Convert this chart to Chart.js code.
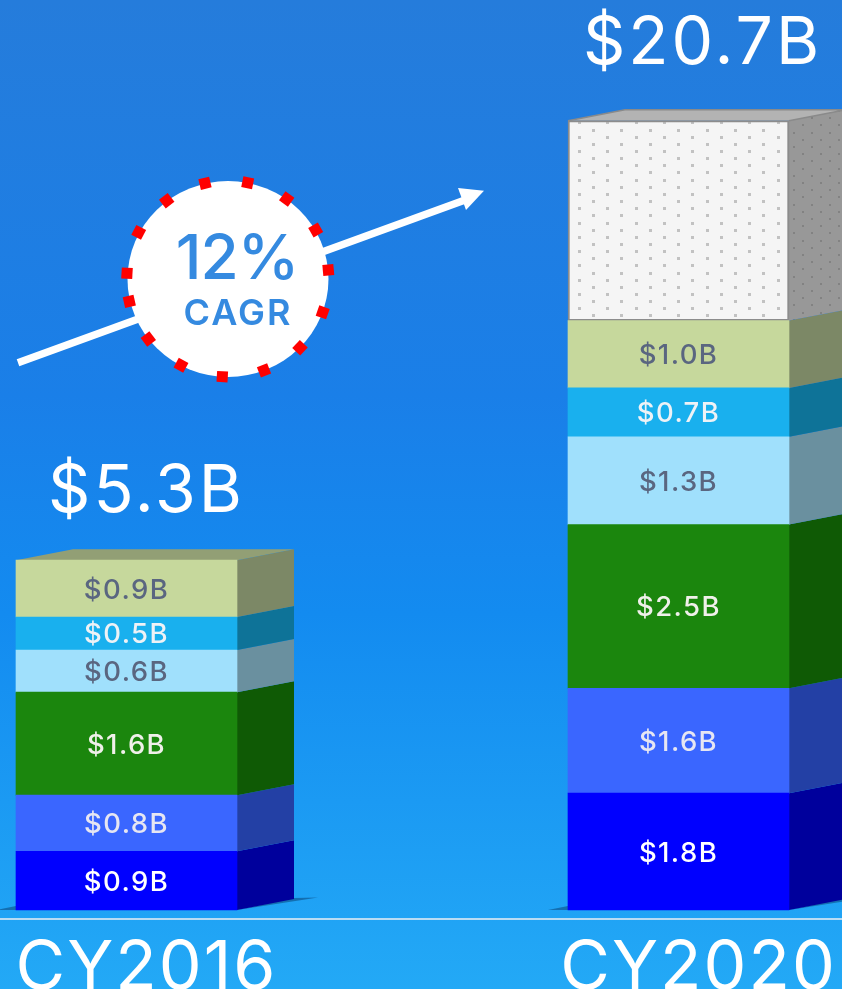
<!DOCTYPE html>
<html><head><meta charset="utf-8">
<style>html,body{margin:0;padding:0;background:#1a84ee;overflow:hidden}canvas{display:block}</style>
<script src="https://cdn.jsdelivr.net/npm/chart.js@4/dist/chart.umd.js"></script>
</head><body><canvas id="c" width="842" height="989"></canvas>
<script>
// ---- data (drawn heights, in $B) ----
const categories = ['CY2016', 'CY2020'];
const totals = ['$5.3B', '$20.7B'];
const segment1 = [0.89, 1.77];
const segment2 = [0.85, 1.59];
const segment3 = [1.56, 2.48];
const segment4 = [0.64, 1.33];
const segment5 = [0.50, 0.74];
const segment6 = [0.86, 1.02];
const segment7 = [null, 3.03];
const labels1 = ['$0.9B', '$1.8B'];
const labels2 = ['$0.8B', '$1.6B'];
const labels3 = ['$1.6B', '$2.5B'];
const labels4 = ['$0.6B', '$1.3B'];
const labels5 = ['$0.5B', '$0.7B'];
const labels6 = ['$0.9B', '$1.0B'];
const labels7 = ['', ''];
const cagrValue = '12%';
const cagrLabel = 'CAGR';

// ---- styles ----
const FONT = 'Inter, "Open Sans", sans-serif';
const frontColors = ['#0000ff', '#3a66ff', '#1b860d', '#a0e0fc', '#19b0ee', '#c6d89c'];
const sideColors = ['#00009c', '#2340a5', '#0f5a05', '#6a909f', '#0e7398', '#7c8866'];
const textColors = ['#ffffff', '#e6e6f2', '#f0f0ea', '#5a6680', '#eef2f6', '#5a6680', '#000'];
const topColors = ['#929f75', '#b3b3b3'];
const DX = 57, DY = -11;

function dotPattern(w, h, cols, rows, ox, oy, bg, dot, s) {
  const p = document.createElement('canvas');
  p.width = w; p.height = h;
  const g = p.getContext('2d');
  g.fillStyle = bg; g.fillRect(0, 0, w, h);
  g.fillStyle = dot;
  for (let i = 0; i < cols; i++) for (let j = 0; j < rows; j++) {
    const x = (ox + i * w / cols) % w;
    const yy = (oy + (j + (i % 2 ? 0.5 : 0)) * h / rows) % h;
    g.fillRect(Math.round(x - s / 2), Math.round(yy - s / 2), s, s);
  }
  return g.createPattern(p, 'repeat');
}
const ctx0 = document.getElementById('c').getContext('2d');
const frontPattern = dotPattern(142, 143, 10, 10, 11.3, 8.5, '#f5f5f5', '#c2c2c2', 3);
const sidePattern = dotPattern(72, 72, 8, 5, 2, 3, '#989898', '#828282', 2);

const allSeries = [segment1, segment2, segment3, segment4, segment5, segment6, segment7];
const allLabels = [labels1, labels2, labels3, labels4, labels5, labels6, labels7];

const threeD = {
  id: 'threeD',
  beforeDraw(chart) {
    const { ctx, width, height } = chart;
    const g = ctx.createLinearGradient(0, 0, 0, height);
    g.addColorStop(0, '#257cdb');
    g.addColorStop(0.4, '#1a7fe8');
    g.addColorStop(0.62, '#138bf0');
    g.addColorStop(1, '#23a9f6');
    ctx.fillStyle = g;
    ctx.fillRect(0, 0, width, height);
    // baseline rule
    const y = chart.scales.y.getPixelForValue(0) + 9;
    ctx.fillStyle = '#b9dcf4';
    ctx.fillRect(0, y - 1, width, 2);
    ctx.letterSpacing = '2px';
  },
  beforeDatasetsDraw(chart) {
    const { ctx } = chart;
    ctx.letterSpacing = '0px';
    const y0 = chart.scales.y.getPixelForValue(0);
    // ground shadows
    categories.forEach((c, i) => {
      const bar = chart.getDatasetMeta(0).data[i];
      const l = bar.x - bar.width / 2, r = bar.x + bar.width / 2;
      ctx.fillStyle = 'rgba(10,70,120,0.55)';
      ctx.beginPath();
      ctx.moveTo(l - 20, y0); ctx.lineTo(l, y0 - 4); ctx.lineTo(l, y0); ctx.closePath(); ctx.fill();
      ctx.beginPath();
      ctx.moveTo(r, y0); ctx.lineTo(r + DX, y0 + DY - 1); ctx.lineTo(r + DX + 24, y0 + DY - 1.5); ctx.closePath(); ctx.fill();
    });
    // side and top faces
    allSeries.forEach((s, d) => {
      const meta = chart.getDatasetMeta(d);
      s.forEach((v, i) => {
        if (v === null) return;
        const b = meta.data[i];
        const l = b.x - b.width / 2, r = b.x + b.width / 2;
        ctx.fillStyle = d === 6 ? sidePattern : sideColors[d];
        ctx.beginPath();
        ctx.moveTo(r, b.base); ctx.lineTo(r + DX, b.base + DY);
        ctx.lineTo(r + DX, b.y + DY); ctx.lineTo(r, b.y); ctx.closePath(); ctx.fill();
        const isTop = (d === 6) || (d === 5 && segment7[i] === null);
        if (isTop) {
          ctx.fillStyle = topColors[i];
          ctx.beginPath();
          ctx.moveTo(l, b.y); ctx.lineTo(l + DX, b.y + DY);
          ctx.lineTo(r + DX, b.y + DY); ctx.lineTo(r, b.y); ctx.closePath(); ctx.fill();
          if (d === 6) {
            ctx.strokeStyle = '#8a8a8a'; ctx.lineWidth = 1.5;
            ctx.beginPath();
            ctx.moveTo(l, b.y); ctx.lineTo(l + DX, b.y + DY); ctx.lineTo(r + DX, b.y + DY);
            ctx.moveTo(r, b.y); ctx.lineTo(r + DX, b.y + DY);
            ctx.stroke();
          }
        }
      });
    });
  },
  afterDatasetsDraw(chart) {
    const { ctx } = chart;
    ctx.save();
    ctx.textAlign = 'center';
    ctx.textBaseline = 'alphabetic';
    // segment labels
    ctx.font = '500 27.5px ' + FONT;
    ctx.letterSpacing = '1.4px';
    allLabels.forEach((arr, d) => {
      const meta = chart.getDatasetMeta(d);
      arr.forEach((t, i) => {
        if (!t) return;
        const b = meta.data[i];
        ctx.fillStyle = textColors[d];
        ctx.fillText(t, b.x, (b.y + b.base) / 2 + 10);
      });
    });
    // totals
    ctx.letterSpacing = '3px';
    ctx.font = '400 66px ' + FONT;
    ctx.fillStyle = '#ffffff';
    const lift = [48, 57], shift = [20, 24];
    totals.forEach((t, i) => {
      const topDs = segment7[i] === null ? 5 : 6;
      const b = chart.getDatasetMeta(topDs).data[i];
      ctx.fillText(t, b.x + shift[i], b.y - lift[i]);
    });
    ctx.restore();
    // CAGR arrow + badge
    ctx.save();
    ctx.letterSpacing = '0px';
    ctx.strokeStyle = '#fff'; ctx.lineWidth = 7.5;
    ctx.beginPath(); ctx.moveTo(18, 362.7); ctx.lineTo(465, 200); ctx.stroke();
    ctx.fillStyle = '#fff';
    ctx.beginPath(); ctx.moveTo(484, 190.7); ctx.lineTo(458, 188); ctx.lineTo(466, 210); ctx.closePath(); ctx.fill();
    ctx.beginPath(); ctx.ellipse(228, 279, 100.5, 98, 0, 0, Math.PI * 2); ctx.fill();
    const ringDots = [[205,183.3],[247.7,182.7],[286.7,199],[315.7,230],[328.3,270],[322.7,312.3],[300,347.7],[264,370.3],[222.3,376.7],[181,365.3],[148.3,339],[129.3,301.3],[127,273.3],[138.7,232.3],[166.7,200.7]];
    ctx.fillStyle = '#ff0000';
    ringDots.forEach(([x, y]) => {
      ctx.save(); ctx.translate(x, y);
      ctx.rotate(Math.atan2(y - 279, x - 228));
      ctx.fillRect(-5.5, -5.5, 11, 11);
      ctx.restore();
    });
    ctx.fillStyle = '#358ae0';
    ctx.textAlign = 'center';
    ctx.font = '500 62px ' + FONT;
    ctx.letterSpacing = '-1px';
    ctx.fillText(cagrValue, 237, 279);
    ctx.font = '600 36px ' + FONT;
    ctx.letterSpacing = '2px';
    ctx.fillText(cagrLabel, 238, 325);
    ctx.restore();
  }
};

const datasets = allSeries.map((data, d) => ({
  label: 'Segment ' + (d + 1),
  data,
  backgroundColor: d === 6 ? frontPattern : frontColors[d],
  borderColor: d === 6 ? '#8c8c8c' : 'transparent',
  borderWidth: d === 6 ? 2 : 0,
  borderSkipped: false,
  barThickness: 221,
  clip: false
}));

new Chart(ctx0, {
  type: 'bar',
  data: { labels: categories, datasets },
  plugins: [threeD],
  options: {
    responsive: false,
    animation: false,
    layout: { padding: { left: 126.5, right: 163.5, top: 52, bottom: 0 } },
    plugins: { legend: { display: false }, tooltip: { enabled: false } },
    scales: {
      x: {
        stacked: true,
        offset: false,
        grid: { display: false },
        border: { display: false },
        ticks: {
          autoSkip: false, maxRotation: 0, minRotation: 0, color: '#ffffff',
          font: { family: FONT, size: 68, weight: '400' },
          padding: 10, labelOffset: 20
        },
        afterFit(s) { s.height = 79; s.paddingLeft = 0; s.paddingRight = 0; }
      },
      y: { stacked: true, display: false, min: 0, max: 13 }
    }
  }
});
</script></body></html>
